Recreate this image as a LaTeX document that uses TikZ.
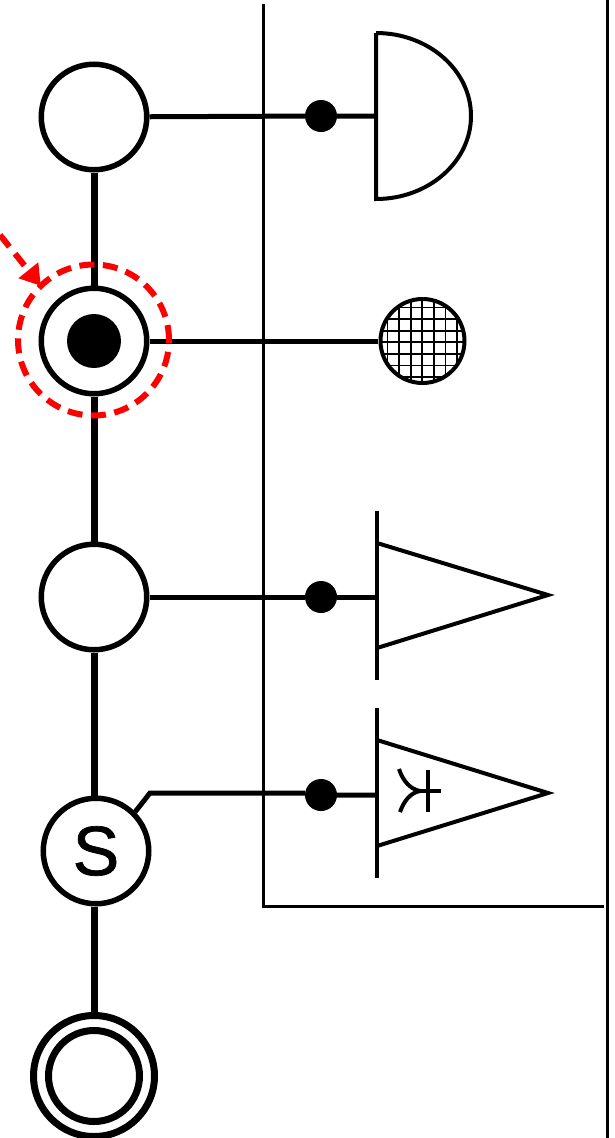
\documentclass[tikz,border=0pt]{standalone}
\usepackage{fontspec}
\setmainfont{Liberation Sans}
\newfontfamily\qsfont[RawFeature={embolden=1}]{Liberation Sans}
\usetikzlibrary{arrows.meta}
\definecolor{markred}{RGB}{255,0,0}
\tikzset{
  qubit/.style={circle,draw,fill=white,line width=5.5pt,minimum size=105.5pt,inner sep=0pt},
  ringnode/.style={circle,draw,fill=white,line width=7pt,inner sep=0pt},
  anchordot/.style={circle,fill=black,minimum size=32pt,inner sep=0pt},
  wire/.style={line width=5pt},
  bond/.style={line width=7pt},
  det/.style={line width=4pt},
  frameline/.style={line width=3pt},
  marker/.style={markred,line width=6pt}
}
\begin{document}
\begin{tikzpicture}[x=1pt,y=-1pt]
\useasboundingbox (0,0) rectangle (615,1138);
% frame
\draw[frameline] (263.5,4) -- (263.5,906) -- (604,906);
\draw[frameline] (607,0) -- (607,1138);
% chain
\node[qubit] (q1) at (94,117) {};
\node[qubit] (q2) at (94,341) {};
\node[qubit] (q3) at (94,597) {};
\node[qubit,font=\qsfont\fontsize{70}{70}\selectfont] (qs) at (96,851) {S};
\node[ringnode,minimum size=121pt] (qo) at (94,1076) {};
\node[ringnode,minimum size=91pt] (qi) at (94,1076) {};
\node[circle,fill=black,minimum size=54pt,inner sep=0pt] (core) at (q2) {};
\draw[bond] (q1) -- (q2);
\draw[bond] (q2) -- (q3);
\draw[bond] (q3) -- (q3 |- qs.north);
\draw[bond] (qs.south -| qo) -- (qo);
% anchor points
\node[anchordot] (dot1) at (321,116) {};
\node[anchordot] (dot3) at (321,597) {};
\node[anchordot] (dots) at (321,795) {};
% detectors
\coordinate (d1) at (376,116);
\coordinate (d2) at (378,341);
\coordinate (d3) at (377,597);
\coordinate (d4) at (377,795);
\draw[det] (376,33) -- (376,199) arc[start angle=270,end angle=450,x radius=95,y radius=-83];
\begin{scope}
\clip (422.5,341) circle[radius=42];
\foreach \k in {-4,...,4} {
  \draw[line width=1.8pt] (422.3+\k*11.6,295) -- (422.3+\k*11.6,388);
  \draw[line width=1.8pt] (375,342.3+\k*11.6) -- (470,342.3+\k*11.6);
}
\end{scope}
\node[circle,draw,det,minimum size=84pt,inner sep=0pt] (mesh) at (422.5,341) {};
\draw[det] (377,511) -- (377,680);
\draw[det] (377,543) -- (548,595) -- (377,648);
\draw[det] (377,708) -- (377,878);
\draw[det] (377,740) -- (548,793) -- (377,846);
% symbol
\draw[det] (428,770) -- (428,812);
\draw[det] (418,791) -- (441,791);
\draw[det] (399,769) .. controls (403,781) and (410,789) .. (420,791);
\draw[det] (400,812) .. controls (404,801) and (410,793) .. (420,791);
% wires
\draw[wire] (q1) -- (dot1) -- (d1);
\draw[wire] (q2) -- (d2);
\draw[wire] (q3) -- (dot3) -- (d3);
\draw[wire] (qs.45) -- (150,793) -- (dots.west |- 0,793) -- (dots) -- (d4);
% marker
\coordinate (tail) at (0,235);
\node[circle,draw,marker,dash pattern=on 15pt off 8.55pt,minimum size=151pt,inner sep=0pt] (ring) at (93.5,340) {};
\draw[marker,dash pattern=on 15pt off 9pt,shorten >=-3pt,-{Triangle[length=20pt,width=24pt]}] (tail) -- (ring.134);
\end{tikzpicture}
\end{document}
